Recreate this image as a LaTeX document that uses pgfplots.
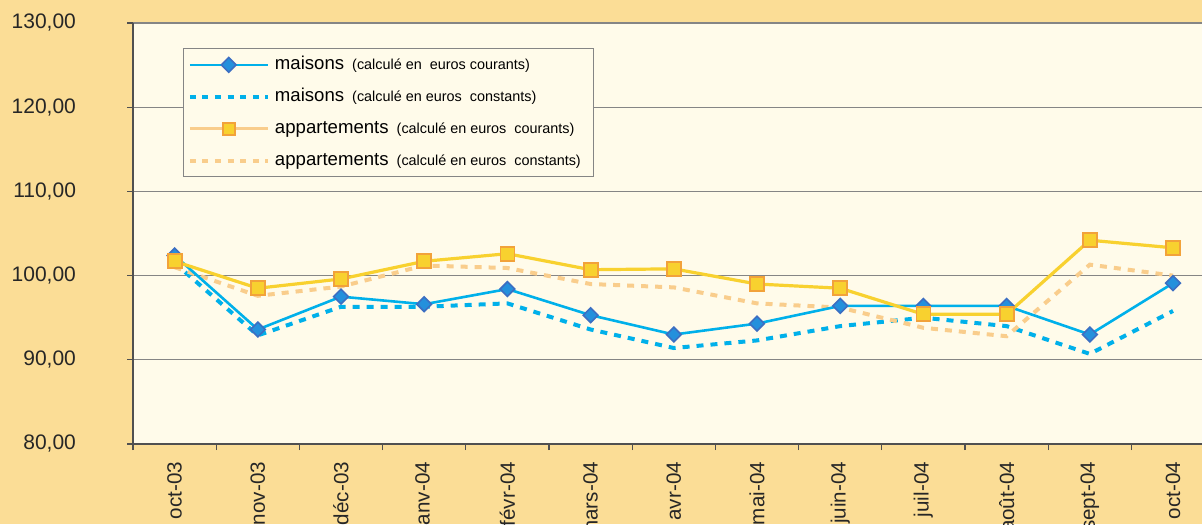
\documentclass[border=0pt]{standalone}
\usepackage{fontspec}
\setmainfont{Liberation Sans}
\usepackage{pgfplots}
\usepackage{pgfplotstable}
\pgfplotsset{compat=1.18}
\definecolor{outerbg}{HTML}{FBDD96}
\definecolor{plotbg}{HTML}{FFFBEA}
\definecolor{mblue}{HTML}{00B0EA}
\definecolor{dfill}{HTML}{2490DC}
\definecolor{dedge}{HTML}{3C6EC2}
\definecolor{ayellow}{HTML}{F8D12F}
\definecolor{sedge}{HTML}{F2A23A}
\definecolor{peach}{HTML}{F9CD8C}
\definecolor{gridc}{HTML}{858585}
\definecolor{axisc}{HTML}{505050}
\pgfplotstableread{
x mc mk ac ak
0 102.4 101.5 101.7 101.0
1 93.6 92.9 98.5 97.6
2 97.5 96.3 99.6 98.7
3 96.6 96.3 101.7 101.2
4 98.4 96.7 102.6 100.9
5 95.3 93.6 100.7 99.0
6 93.0 91.4 100.8 98.6
7 94.3 92.3 99.0 96.7
8 96.4 94.0 98.5 96.2
9 96.4 95.0 95.4 93.8
10 96.4 94.0 95.4 92.8
11 93.0 90.7 104.2 101.3
12 99.1 95.8 103.3 100.0
}\data
\begin{document}
\begin{tikzpicture}
\fill[outerbg] (0,0) rectangle (601pt,262pt);
\path[use as bounding box] (0,0) rectangle (601pt,262pt);
\clip (0,0) rectangle (601pt,262pt);
\begin{axis}[
  at={(66.5pt,40pt)}, anchor=south west,
  scale only axis, width=540.8pt, height=210.5pt,
  xmin=-0.5, xmax=12.5, ymin=80, ymax=130,
  axis lines*=left, axis line style={axisc, line width=0.6pt},
  axis background/.style={fill=plotbg},
  ytick={80,90,...,130}, ymajorgrids, grid style={gridc, line width=0.6pt},
  tick align=outside, major tick length=3pt,
  ytick style={axisc, line width=0.6pt},
  /pgf/number format/.cd, fixed, fixed zerofill, precision=2, use comma, assume math mode=true,
  /pgfplots/.cd,
  yticklabel style={font=\fontsize{10.5}{12}\selectfont, text=black!85, xshift=-22pt},
  xtick={0,...,12},
  xticklabels={oct-03,nov-03,déc-03,janv-04,févr-04,mars-04,avr-04,mai-04,juin-04,juil-04,août-04,sept-04,oct-04},
  xticklabel style={rotate=90, anchor=east, font=\fontsize{10.3}{12}\selectfont, text=black!85, xshift=-2.5pt},
  xtick style={draw=none},
  extra x ticks={-0.5,0.5,...,12.5}, extra x tick labels={},
  extra x tick style={xtick style={draw=axisc, line width=0.6pt}},
  legend image code/.code={\draw[mark repeat=2,mark phase=2,#1] plot coordinates {(0pt,0pt) (19.5pt,0pt) (39pt,0pt)};},
  legend cell align=left,
  legend style={at={(0.0462,0.94)}, anchor=north west, draw=gridc, fill=plotbg, line width=0.6pt,
    inner xsep=2pt, inner ysep=3.5pt, /tikz/row sep=7pt, /tikz/column sep=2.5pt,
    nodes={inner sep=0pt, text height=7pt, text depth=2pt}},
]
\addplot[mblue, line width=2pt, dash pattern=on 3.5pt off 3.5pt, forget plot] table[x=x,y=mk]{\data};
\addplot[peach, line width=2pt, dash pattern=on 3.5pt off 3.5pt, forget plot] table[x=x,y=ak]{\data};
\addplot[mblue, line width=1.3pt, mark=square*, mark size=2.6pt, mark options={rotate=45, fill=dfill, draw=dedge, line width=0.8pt, solid}, forget plot] table[x=x,y=mc]{\data};
\addplot[ayellow, line width=1.6pt, mark=square*, mark size=3.5pt, mark options={fill=ayellow, draw=sedge, line width=0.9pt}, forget plot] table[x=x,y=ac]{\data};
\addlegendimage{mblue, line width=1.3pt, mark=square*, mark size=2.6pt, mark options={rotate=45, fill=dfill, draw=dedge, line width=0.8pt, solid}}
\addlegendentry{\fontsize{9.3}{11}\selectfont maisons\hspace{4pt}{\fontsize{7.2}{9}\selectfont (calculé en\ \ euros courants)}}
\addlegendimage{mblue, line width=2.2pt, dash pattern=on 3pt off 3.3pt}
\addlegendentry{\fontsize{9.3}{11}\selectfont maisons\hspace{4pt}{\fontsize{7.2}{9}\selectfont (calculé en euros\ \ constants)}}
\addlegendimage{peach, line width=1.5pt, mark=square*, mark size=3pt, mark options={fill=ayellow, draw=sedge, line width=0.9pt}}
\addlegendentry{\fontsize{9.3}{11}\selectfont appartements\hspace{4pt}{\fontsize{7.2}{9}\selectfont (calculé en euros\ \ courants)}}
\addlegendimage{peach, line width=2.2pt, dash pattern=on 3pt off 3.3pt}
\addlegendentry{\fontsize{9.3}{11}\selectfont appartements\hspace{4pt}{\fontsize{7.2}{9}\selectfont (calculé en euros\ \ constants)}\rule{4.5pt}{0pt}}
\end{axis}
\end{tikzpicture}
\end{document}
